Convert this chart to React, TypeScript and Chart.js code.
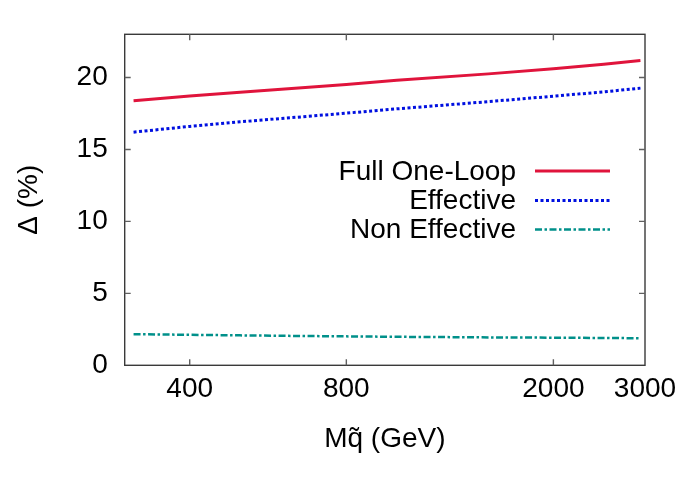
import React, { useEffect, useRef } from "react";
import { Chart, registerables } from "chart.js";

Chart.register(...registerables);

// ---- data ----
const massValues = [312, 400, 500, 600, 800, 1000, 1500, 2000, 2500, 2940];
const fullOneLoop = [18.38, 18.72, 18.98, 19.18, 19.52, 19.8, 20.25, 20.6, 20.92, 21.18];
const effective = [16.2, 16.6, 16.92, 17.15, 17.52, 17.82, 18.32, 18.7, 19.0, 19.26];
const nonEffective = [2.16, 2.12, 2.08, 2.05, 2.01, 1.98, 1.94, 1.92, 1.9, 1.88];
const xTickValues = [400, 800, 2000, 3000];
const yTickValues = [0, 5, 10, 15, 20];
const seriesNames = ["Full One-Loop", "Effective", "Non Effective"];

const FONT = "'Liberation Sans', Arial, Helvetica, sans-serif";
const FS = 28;

const colors = ["#e0143c", "#0010e0", "#00908a"];
const dashes: number[][] = [[], [3, 2.5], [7, 2.5, 2.5, 2.5]];
const widths = [3, 3, 2.5];

const toPts = (ys: number[]) => massValues.map((x, i) => ({ x, y: ys[i] }));

const framePlugin = {
  id: "frame",
  afterDatasetsDraw(chart: any) {
    const { ctx, chartArea: a, scales } = chart;
    const xs = scales.x;
    const ys = scales.y;
    ctx.save();
    ctx.strokeStyle = "#3a3a3a";
    ctx.lineWidth = 1.4;
    ctx.setLineDash([]);
    ctx.strokeRect(a.left, a.top, a.right - a.left, a.bottom - a.top);
    ctx.strokeStyle = "#606060";
    ctx.lineWidth = 1.4;
    const tl = 6;
    ctx.beginPath();
    xTickValues.forEach((v) => {
      const px = xs.getPixelForValue(v);
      if (px >= a.right - 1) return;
      ctx.moveTo(px, a.bottom);
      ctx.lineTo(px, a.bottom - tl);
      ctx.moveTo(px, a.top);
      ctx.lineTo(px, a.top + tl);
    });
    yTickValues.forEach((v) => {
      const py = ys.getPixelForValue(v);
      if (py >= a.bottom - 1) return;
      ctx.moveTo(a.left, py);
      ctx.lineTo(a.left + tl, py);
      ctx.moveTo(a.right, py);
      ctx.lineTo(a.right - tl, py);
    });
    ctx.stroke();

    // legend
    ctx.font = `${FS}px ${FONT}`;
    ctx.fillStyle = "#000";
    ctx.textAlign = "right";
    ctx.textBaseline = "middle";
    const rows = [171, 200.5, 229.5];
    seriesNames.forEach((name, i) => {
      ctx.fillText(name, 516, rows[i] + 1);
      ctx.strokeStyle = colors[i];
      ctx.lineWidth = widths[i];
      ctx.setLineDash(dashes[i]);
      ctx.beginPath();
      ctx.moveTo(535, rows[i]);
      ctx.lineTo(610, rows[i]);
      ctx.stroke();
    });
    ctx.setLineDash([]);

    // axis titles
    ctx.textAlign = "center";
    ctx.textBaseline = "middle";
    ctx.fillStyle = "#000";
    ctx.fillText("Mq\u0303 (GeV)", (a.left + a.right) / 2, 439);
    ctx.translate(29, (a.top + a.bottom) / 2);
    ctx.rotate(-Math.PI / 2);
    ctx.fillText("\u0394 (%)", 0, 0);
    ctx.restore();
  },
};

export default function App() {
  const ref = useRef<HTMLCanvasElement | null>(null);
  useEffect(() => {
    if (!ref.current) return;
    const chart = new Chart(ref.current, {
      type: "line",
      data: {
        datasets: [fullOneLoop, effective, nonEffective].map((ys, i) => ({
          label: seriesNames[i],
          data: toPts(ys),
          borderColor: colors[i],
          borderWidth: widths[i],
          borderDash: dashes[i],
          pointRadius: 0,
          tension: 0,
          fill: false,
        })),
      },
      options: {
        animation: false,
        responsive: false,
        devicePixelRatio: 1,
        parsing: true,
        layout: { padding: { top: 34.3, right: 53, left: 0, bottom: 0 } },
        plugins: { legend: { display: false }, tooltip: { enabled: false } },
        scales: {
          x: {
            type: "logarithmic",
            min: 300,
            max: 3000,
            afterBuildTicks: (s: any) => {
              s.ticks = xTickValues.map((v) => ({ value: v }));
            },
            afterFit: (s: any) => {
              s.height = 122.7;
            },
            grid: { display: false, drawTicks: false },
            border: { display: false },
            ticks: {
              autoSkip: false,
              maxRotation: 0,
              padding: 7,
              color: "#000",
              font: { family: FONT, size: FS },
              callback: (v: any) => String(v),
            },
          },
          y: {
            type: "linear",
            min: 0,
            max: 23,
            afterBuildTicks: (s: any) => {
              s.ticks = yTickValues.map((v) => ({ value: v }));
            },
            afterFit: (s: any) => {
              s.width = 124.7;
            },
            grid: { display: false, drawTicks: false },
            border: { display: false },
            ticks: {
              padding: 17,
              color: "#000",
              font: { family: FONT, size: FS },
              callback: (v: any) => String(v),
            },
          },
        },
      },
      plugins: [framePlugin],
    });
    return () => chart.destroy();
  }, []);
  return (
    <div style={{ position: "fixed", left: 0, top: 0, width: 698, height: 488, background: "#fff" }}>
      <canvas ref={ref} width={698} height={488} style={{ width: 698, height: 488 }} />
    </div>
  );
}
